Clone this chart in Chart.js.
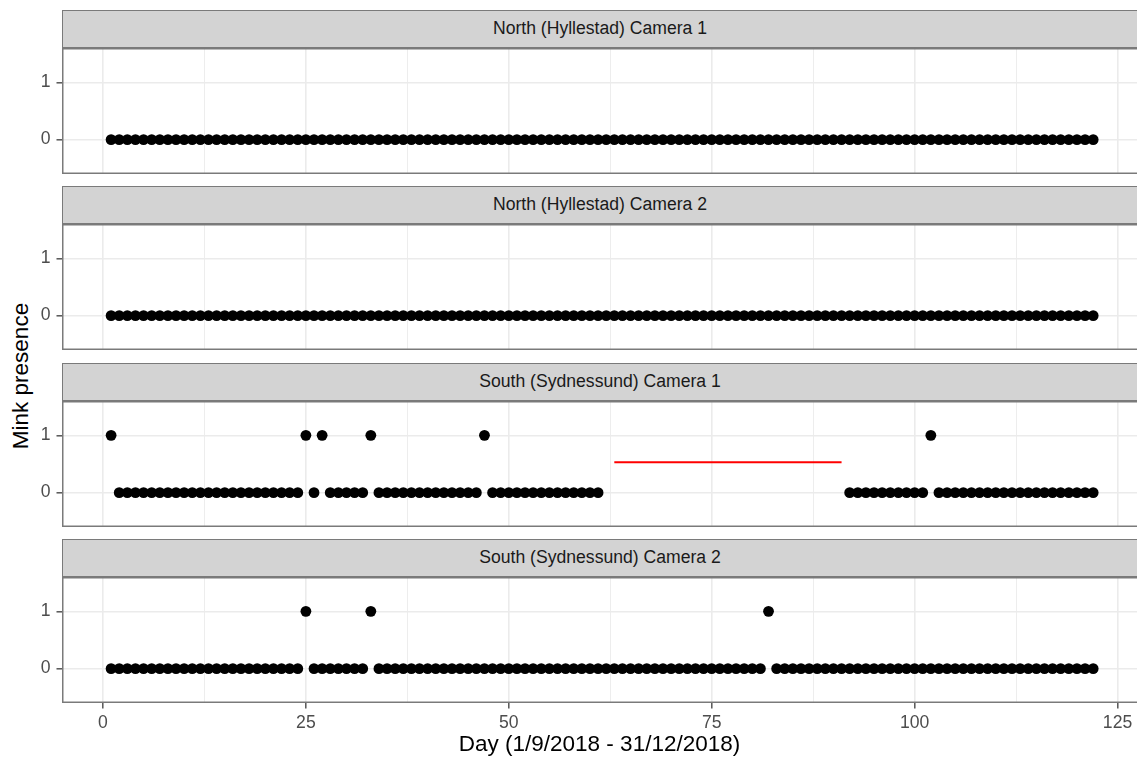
<!DOCTYPE html>
<html>
<head>
<meta charset="utf-8">
<script src="https://cdn.jsdelivr.net/npm/chart.js@4.4.0/dist/chart.umd.min.js"></script>
<style>
  html, body { margin: 0; padding: 0; background: #ffffff; }
  body { width: 1137px; height: 762px; position: relative; overflow: hidden;
         font-family: "Liberation Sans", Arial, Helvetica, sans-serif; }
  .strip { position: absolute; left: 62px; width: 1075px; height: 38px; box-sizing: border-box;
           background: #d3d3d3; border: 1.5px solid #7a7a7a; border-right: none;
           color: #1a1a1a; font-size: 17.6px; line-height: 35px; text-align: center; z-index: 2; }
  .panel { position: absolute; left: 0; width: 1137px; z-index: 1; }
  #ytitle { position: absolute; left: 20.5px; top: 376px; transform: translate(-50%, -50%) rotate(-90deg);
            font-size: 22.5px; color: #000; white-space: nowrap; }
</style>
</head>
<body>
<div id="ytitle">Mink presence</div>
<script>
// ---------------- data ----------------
const days = [
  1,2,3,4,5,6,7,8,9,10,
  11,12,13,14,15,16,17,18,19,20,
  21,22,23,24,25,26,27,28,29,30,
  31,32,33,34,35,36,37,38,39,40,
  41,42,43,44,45,46,47,48,49,50,
  51,52,53,54,55,56,57,58,59,60,
  61,62,63,64,65,66,67,68,69,70,
  71,72,73,74,75,76,77,78,79,80,
  81,82,83,84,85,86,87,88,89,90,
  91,92,93,94,95,96,97,98,99,100,
  101,102,103,104,105,106,107,108,109,110,
  111,112,113,114,115,116,117,118,119,120,
  121,122
];

const northCam1 = [
  0,0,0,0,0,0,0,0,0,0,
  0,0,0,0,0,0,0,0,0,0,
  0,0,0,0,0,0,0,0,0,0,
  0,0,0,0,0,0,0,0,0,0,
  0,0,0,0,0,0,0,0,0,0,
  0,0,0,0,0,0,0,0,0,0,
  0,0,0,0,0,0,0,0,0,0,
  0,0,0,0,0,0,0,0,0,0,
  0,0,0,0,0,0,0,0,0,0,
  0,0,0,0,0,0,0,0,0,0,
  0,0,0,0,0,0,0,0,0,0,
  0,0,0,0,0,0,0,0,0,0,
  0,0
];

const northCam2 = [
  0,0,0,0,0,0,0,0,0,0,
  0,0,0,0,0,0,0,0,0,0,
  0,0,0,0,0,0,0,0,0,0,
  0,0,0,0,0,0,0,0,0,0,
  0,0,0,0,0,0,0,0,0,0,
  0,0,0,0,0,0,0,0,0,0,
  0,0,0,0,0,0,0,0,0,0,
  0,0,0,0,0,0,0,0,0,0,
  0,0,0,0,0,0,0,0,0,0,
  0,0,0,0,0,0,0,0,0,0,
  0,0,0,0,0,0,0,0,0,0,
  0,0,0,0,0,0,0,0,0,0,
  0,0
];

const southCam1 = [
  1,0,0,0,0,0,0,0,0,0,
  0,0,0,0,0,0,0,0,0,0,
  0,0,0,0,1,0,1,0,0,0,
  0,0,1,0,0,0,0,0,0,0,
  0,0,0,0,0,0,1,0,0,0,
  0,0,0,0,0,0,0,0,0,0,
  0,null,null,null,null,null,null,null,null,null,
  null,null,null,null,null,null,null,null,null,null,
  null,null,null,null,null,null,null,null,null,null,
  null,0,0,0,0,0,0,0,0,0,
  0,1,0,0,0,0,0,0,0,0,
  0,0,0,0,0,0,0,0,0,0,
  0,0
];

const southCam2 = [
  0,0,0,0,0,0,0,0,0,0,
  0,0,0,0,0,0,0,0,0,0,
  0,0,0,0,1,0,0,0,0,0,
  0,0,1,0,0,0,0,0,0,0,
  0,0,0,0,0,0,0,0,0,0,
  0,0,0,0,0,0,0,0,0,0,
  0,0,0,0,0,0,0,0,0,0,
  0,0,0,0,0,0,0,0,0,0,
  0,1,0,0,0,0,0,0,0,0,
  0,0,0,0,0,0,0,0,0,0,
  0,0,0,0,0,0,0,0,0,0,
  0,0,0,0,0,0,0,0,0,0,
  0,0
];

const panelTitles = [
  "North (Hyllestad) Camera 1",
  "North (Hyllestad) Camera 2",
  "South (Sydnessund) Camera 1",
  "South (Sydnessund) Camera 2"
];

// red segment marking the camera outage (South Camera 1)
const gapX = [63, 91];
const gapY = [0.53, 0.53];
const gapPanelTitle = "South (Sydnessund) Camera 1";

const xTickLabels = [0, 25, 50, 75, 100, 125];
const xMinorBreaks = [12.5, 37.5, 62.5, 87.5, 112.5];
const yTickLabels = [0, 1];

const xAxisTitle = "Day (1/9/2018 - 31/12/2018)";

// ---------------- layout ----------------
const series = [northCam1, northCam2, southCam1, southCam2];
const stripTops = [10, 186, 363, 539];
const STRIP_H = 38, PLOT_H = 126, AXIS_H = 59, YAXIS_W = 62;
const FONT = '"Liberation Sans", Arial, Helvetica, sans-serif';

const panelBorder = {
  id: 'panelBorder',
  afterDraw(chart) {
    const { ctx, chartArea: a } = chart;
    ctx.save();
    ctx.strokeStyle = '#7a7a7a';
    ctx.lineWidth = 1.5;
    ctx.strokeRect(a.left + 0.75, a.top + 0.75, a.right - a.left + 10, a.bottom - a.top - 1.5);
    ctx.restore();
  }
};

const xBreaks = xTickLabels.concat(xMinorBreaks).sort((a, b) => a - b);
const isMajorX = v => xTickLabels.includes(v);

series.forEach((vals, i) => {
  const last = i === series.length - 1;

  const strip = document.createElement('div');
  strip.className = 'strip';
  strip.style.top = stripTops[i] + 'px';
  strip.textContent = panelTitles[i];
  document.body.appendChild(strip);

  const wrap = document.createElement('div');
  wrap.className = 'panel';
  wrap.style.top = (stripTops[i] + STRIP_H) + 'px';
  wrap.style.height = (PLOT_H + (last ? AXIS_H : 0)) + 'px';
  const canvas = document.createElement('canvas');
  wrap.appendChild(canvas);
  document.body.appendChild(wrap);

  const points = [];
  days.forEach((d, k) => { if (vals[k] !== null) points.push({ x: d, y: vals[k] }); });

  const datasets = [{
    data: points,
    backgroundColor: '#000000',
    borderWidth: 0,
    pointRadius: 5.4,
    pointHoverRadius: 5.4
  }];
  if (panelTitles[i] === gapPanelTitle) {
    datasets.push({
      type: 'line',
      data: gapX.map((x, k) => ({ x: x, y: gapY[k] })),
      borderColor: '#ff0000',
      borderWidth: 2,
      pointRadius: 0,
      showLine: true,
      fill: false
    });
  }

  new Chart(canvas, {
    type: 'scatter',
    data: { datasets },
    options: {
      responsive: true,
      maintainAspectRatio: false,
      animation: false,
      events: [],
      layout: { padding: 0, autoPadding: false },
      plugins: { legend: { display: false }, tooltip: { enabled: false } },
      scales: {
        x: {
          type: 'linear',
          min: -5.05,
          max: 127.4,
          afterBuildTicks: s => { s.ticks = xBreaks.map(v => ({ value: v })); },
          afterFit: s => { s.height = last ? AXIS_H : 0; s.paddingLeft = 0; s.paddingRight = 0; },
          border: { display: false },
          grid: {
            color: '#ebebeb',
            lineWidth: c => (c.tick && isMajorX(c.tick.value)) ? 1.6 : 0.9,
            drawTicks: last,
            tickLength: 5.5,
            tickWidth: 1.5,
            tickColor: c => (c.tick && isMajorX(c.tick.value)) ? '#555555' : 'rgba(0,0,0,0)'
          },
          ticks: {
            display: last,
            autoSkip: false,
            maxRotation: 0,
            padding: 4,
            color: '#4d4d4d',
            font: { size: 17.6, family: FONT },
            callback: v => isMajorX(v) ? String(v) : ''
          },
          title: {
            display: last,
            text: xAxisTitle,
            color: '#000000',
            font: { size: 22.5, family: FONT },
            padding: { top: 0, bottom: 4 }
          }
        },
        y: {
          type: 'linear',
          min: -0.6,
          max: 1.6,
          afterBuildTicks: s => { s.ticks = yTickLabels.map(v => ({ value: v })); },
          afterFit: s => { s.width = YAXIS_W; s.paddingTop = 0; s.paddingBottom = 0; },
          border: { display: false },
          grid: {
            color: '#ebebeb',
            lineWidth: 1.6,
            drawTicks: true,
            tickLength: 5.5,
            tickWidth: 1.5,
            tickColor: '#555555'
          },
          ticks: {
            padding: 6,
            color: '#4d4d4d',
            font: { size: 17.6, family: FONT },
            callback: v => String(v)
          }
        }
      }
    },
    plugins: [panelBorder]
  });
});
</script>
</body>
</html>
